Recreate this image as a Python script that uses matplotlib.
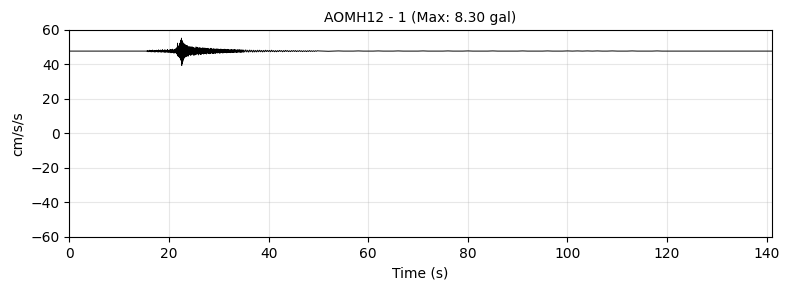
import matplotlib
matplotlib.use("Agg")
import matplotlib.pyplot as plt
import numpy as np

# record info
station = "AOMH12 - 1"
max_gal = 8.30
baseline = 47.7          # uncorrected offset of the trace (cm/s/s)
duration = 141.0         # record length (s)

# quiet part before arrival / after the end (s)
quiet_start = [0.0, 15.4]
quiet_end = [138.1, 141.0]

# pre-event noise, 15.5-21.5 s, dt 0.1 s
noise_pre = [0.1, -0.2, 0.3, -0.4, 0.2, -0.3, 0.5, -0.2, 0.4, -0.5,
             0.3, -0.4, 0.6, -0.3, 0.2, -0.5, 0.4, -0.6, 0.3, -0.2,
             0.5, -0.4, 0.3, -0.6, 0.7, -0.5, 0.4, -0.3, 0.6, -0.7,
             0.5, -0.4, 0.8, -0.6, 0.3, -0.5, 0.7, -0.8, 0.6, -0.4,
             0.5, -0.7, 0.9, -0.6, 0.4, -0.8, 0.7, -0.5, 0.9, -1.0,
             0.8, -0.6, 1.1, -0.9, 0.7, -1.2, 1.0, -0.8, 1.3, -1.1]

# main shaking, 21.5-24.0 s, dt 0.05 s
burst = [1.2, -1.5, 2.0, -1.8, 4.6, -2.5, 1.8, -3.0, 2.6, -2.2,
         3.1, -3.4, 2.8, -3.9, 4.6, -3.6, 5.8, -4.9, 6.4, -5.5,
         7.5, -8.3, 6.1, -7.2, 5.4, -6.0, 4.8, -5.1, 3.9, -4.4,
         3.2, -3.8, 4.1, -3.0, 2.8, -3.4, 3.6, -2.6, 2.2, -3.1,
         2.9, -2.4, 3.3, -2.8, 2.5, -2.1, 2.7, -2.9, 2.0, -2.3]

# coda, 24.0-35.0 s, dt 0.1 s
coda = [2.3, -2.0, 2.6, -2.4, 1.9, -2.2, 2.5, -1.8, 2.1, -2.4,
        2.0, -2.3, 1.7, -2.1, 2.4, -1.9, 2.2, -1.6, 1.9, -2.2,
        1.8, -1.6, 2.0, -1.9, 1.5, -1.8, 1.7, -1.4, 1.9, -1.7,
        1.6, -1.5, 1.8, -1.3, 1.4, -1.7, 1.5, -1.2, 1.6, -1.4,
        1.3, -1.5, 1.2, -1.4, 1.6, -1.1, 1.3, -1.3, 1.1, -1.4,
        1.4, -1.2, 1.0, -1.3, 1.2, -1.0, 1.3, -1.1, 1.2, -0.9,
        1.1, -1.2, 0.9, -1.1, 1.2, -0.8, 1.0, -1.1, 0.9, -1.0,
        1.0, -0.9, 1.1, -0.8, 0.9, -1.0, 0.8, -0.9, 1.0, -0.8,
        0.9, -0.8, 0.7, -0.9, 0.8, -0.7, 0.9, -0.8, 0.7, -0.8,
        0.8, -0.7, 0.9, -0.6, 0.7, -0.8, 0.6, -0.7, 0.8, -0.6,
        0.7, -0.6, 0.8, -0.7, 0.6, -0.7, 0.7, -0.5, 0.6, -0.7]

# late coda, 35.0-50.0 s, dt 0.2 s
tail1 = [0.6, -0.5, 0.7, -0.5, 0.5, -0.6, 0.6, -0.4, 0.5, -0.6,
         0.5, -0.5, 0.4, -0.5, 0.5, -0.4, 0.5, -0.4, 0.4, -0.5,
         0.4, -0.4, 0.5, -0.3, 0.4, -0.3, 0.4, -0.4, 0.5, -0.3,
         0.3, -0.4, 0.3, -0.4, 0.3, -0.3, 0.4, -0.2, 0.3, -0.4,
         0.3, -0.3, 0.4, -0.2, 0.3, -0.3, 0.2, -0.3, 0.3, -0.2,
         0.3, -0.2, 0.3, -0.3, 0.2, -0.2, 0.3, -0.2, 0.2, -0.3,
         0.2, -0.2, 0.2, -0.3, 0.2, -0.2, 0.3, -0.2, 0.2, -0.2,
         0.2, -0.2, 0.2, -0.1, 0.2]

# tail, 50-138 s, dt 1.0 s
tail2 = [0.1, 0.0, -0.1, 0.0, 0.1, 0.0, 0.0, 0.0, 0.1, 0.0,
         0.0, 0.0, 0.1, 0.0, 0.0, 0.0, 0.1, 0.0, 0.0, 0.0,
         0.0, 0.1, 0.0, 0.0, 0.0, 0.0, 0.1, 0.0, 0.0, 0.0,
         0.1, 0.0, 0.0, 0.0, 0.0, 0.1, 0.0, 0.0, 0.0, 0.0,
         0.0, 0.1, 0.0, 0.0, 0.0, 0.0, 0.1, 0.0, 0.0, 0.0,
         0.1, 0.0, 0.1, 0.0, 0.1, 0.0, 0.1, 0.0, 0.0, 0.1,
         0.0, 0.0, 0.0, 0.1, 0.0, 0.0, 0.0, 0.0, 0.1, 0.0,
         0.0, 0.0, 0.0, 0.0, 0.0, 0.0, 0.0, 0.0, 0.0, 0.0,
         0.0, 0.0, 0.0, 0.0, 0.0, 0.0, 0.0, 0.0, 0.0]

segments = [(15.5, 0.1, noise_pre), (21.5, 0.05, burst), (24.0, 0.1, coda),
            (35.0, 0.2, tail1), (50.0, 1.0, tail2)]

t_parts = [np.array(quiet_start)]
a_parts = [np.zeros(len(quiet_start))]
for start, dt, vals in segments:
    t_parts.append(start + dt * np.arange(len(vals)))
    a_parts.append(np.array(vals))
t_parts.append(np.array(quiet_end))
a_parts.append(np.zeros(len(quiet_end)))

t = np.concatenate(t_parts)
acc = np.concatenate(a_parts) + baseline

fig, ax = plt.subplots(figsize=(7.89, 2.9), dpi=100)
fig.subplots_adjust(left=0.088, right=0.978, top=0.897, bottom=0.183)

ax.plot(t, acc, color="black", linewidth=0.7)
ax.set_xlim(0, duration)
ax.set_ylim(-60, 60)
ax.set_title(f"{station} (Max: {max_gal:.2f} gal)", fontsize=10)
ax.set_xlabel("Time (s)")
ax.set_ylabel("cm/s/s")
ax.grid(True, alpha=0.3)

fig.savefig("out.png", dpi=100)
